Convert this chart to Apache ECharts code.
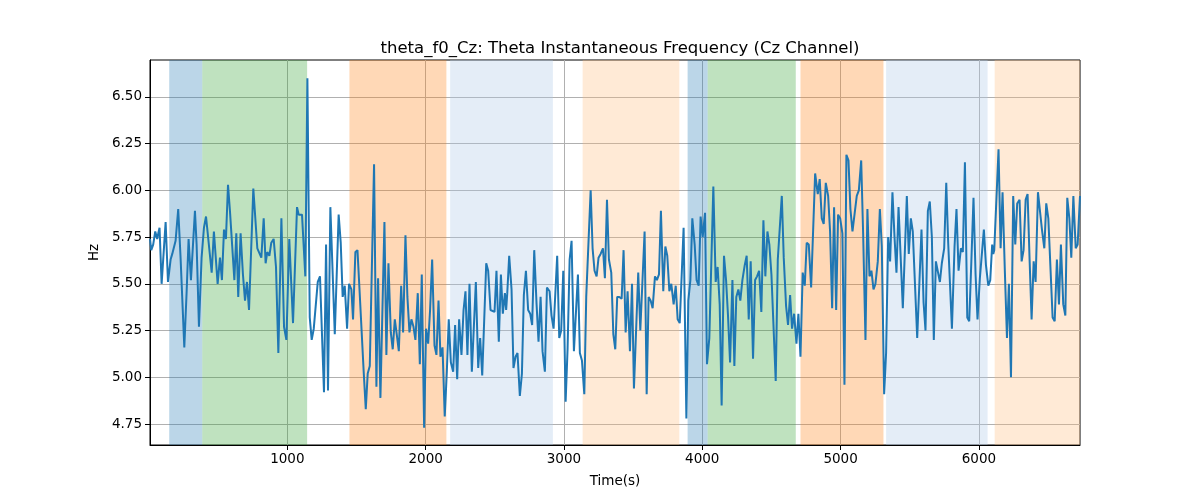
<!DOCTYPE html>
<html>
<head>
<meta charset="utf-8">
<script src="https://cdn.jsdelivr.net/npm/echarts@6/dist/echarts.min.js"></script>
<style>html,body{margin:0;padding:0;background:#fff}#c{width:1200px;height:500px}</style>
</head>
<body>
<div id="c"></div>
<script>
const title = "theta_f0_Cz: Theta Instantaneous Frequency (Cz Channel)";
const xName = "Time(s)";
const yName = "Hz";
const xTicks = [1000, 2000, 3000, 4000, 5000, 6000];
const yTicks = [4.75, 5.00, 5.25, 5.50, 5.75, 6.00, 6.25, 6.50];
const xMin = 7, xMax = 6731, yMin = 4.638, yMax = 6.697;

const times = [
7,16,30,45,59,67,76,91,120,137,156,168,180,192,211,228,255,272,286,303,332,344,361,380,397,412,424,453,469,496,513,527,542,556,571,585,617,631,645,662,679,694,708,723,754,783,797,812,829,843,855,870,884,901,918,935,
957,976,993,1014,1024,1041,1070,1082,1094,1106,1130,1145,1162,1176,1191,1205,1220,1236,1265,1280,1294,1311,1343,1371,1386,1400,1415,1432,1446,1463,1475,1492,1507,1521,1535,1552,1567,1581,1596,1627,1644,1656,1673,1702,1716,1731,1748,1762,1777,1791,1806,1823,1837,1854,1868,1883,1897,1912,
1926,1943,1958,1972,1989,2003,2018,2032,2047,2064,2078,2093,2107,2122,2138,2153,2167,2182,2199,2213,2228,2242,2259,2274,2288,2302,2317,2334,2363,2380,2394,2409,2438,2452,2469,2483,2498,2512,2529,2544,2558,2573,2582,2590,2604,2621,2635,2650,2664,2681,2696,2710,2725,2741,2756,2770,2785,2802,2816,2831,2845,2862,2877,
2896,2910,2925,2937,2951,2966,2980,2995,3012,3026,3041,3055,3072,3101,3115,3130,3147,3161,3193,3207,3221,3236,3250,3265,3282,3296,3311,3325,3342,3357,3371,3385,3400,3417,3431,3446,3460,3477,3492,3506,3537,3552,3583,3598,3612,3627,3641,3658,3672,3687,3701,3718,3733,3747,3762,3776,3793,3808,3822,3837,3851,
3865,3885,3899,3914,3928,3945,3959,3974,3988,4003,4020,4034,4051,4080,4097,4111,4126,4140,4157,4172,4186,4201,4218,4232,4246,4261,4275,4290,4307,4321,4336,4350,4367,4382,4396,4411,4427,4442,4456,4471,4485,4500,4514,4531,4546,4575,4589,4606,4620,4635,4649,4664,4681,4695,4710,4726,4741,4755,4770,4787,4816,
4835,4849,4864,4878,4893,4910,4924,4939,4953,4968,4982,4997,5013,5028,5042,5057,5071,5086,5117,5132,5149,5163,5180,5194,5209,5223,5238,5252,5269,5284,5298,5315,5329,5344,5358,5375,5390,5404,5419,5433,5450,5479,5493,5508,5522,5554,5585,5600,5614,5631,5645,5660,5674,5689,5703,5718,5732,5749,5764,5778,
5805,5824,5838,5853,5870,5884,5899,5916,5930,5945,5961,5976,5990,6007,6036,6051,6068,6082,6096,6104,6111,6142,6157,6171,6188,6203,6217,6232,6248,6263,6277,6294,6309,6323,6338,6352,6367,6381,6396,6410,6427,6456,6473,6487,6502,6533,6548,6564,6579,6593,6610,6625,6639,6654,6668,6683,6700,6714,6731
];
const freq = [
5.74,5.68,5.71,5.78,5.74,5.77,5.80,5.50,5.83,5.51,5.63,5.66,5.65,5.73,5.90,5.64,5.16,5.46,5.74,5.52,5.89,5.71,5.27,5.64,5.80,5.86,5.86,5.56,5.78,5.50,5.64,5.52,5.79,5.74,6.03,5.89,5.52,5.77,5.43,5.77,5.55,5.41,5.51,5.36,6.01,5.69,5.68,5.64,5.85,5.61,5.67,5.65,5.72,5.74,5.59,5.13,
5.85,5.27,5.20,5.74,5.75,5.29,5.91,5.87,5.88,5.87,5.54,6.60,5.32,5.20,5.26,5.26,5.51,5.54,4.92,5.71,4.93,5.91,5.23,5.87,5.72,5.43,5.49,5.26,5.50,5.47,5.31,5.67,5.68,5.48,5.49,5.03,4.83,5.02,5.06,6.14,4.95,5.53,4.89,5.83,5.12,5.61,5.24,5.15,5.31,5.23,5.14,5.49,5.24,5.76,5.43,5.24,5.31,5.27,
5.20,5.45,5.07,5.55,4.73,5.26,5.18,5.36,5.63,5.17,5.12,5.41,5.11,5.16,4.79,5.03,5.31,5.08,5.03,5.28,4.99,5.31,5.12,5.36,5.46,5.12,5.50,5.03,5.51,5.05,5.21,5.01,5.61,5.57,5.36,5.36,5.35,5.57,5.19,5.55,5.34,5.45,5.36,5.45,5.65,5.47,5.05,5.11,5.13,4.90,5.02,5.44,5.57,5.36,5.34,5.28,5.68,5.39,5.19,5.43,5.14,5.03,5.48,
5.46,5.33,5.26,5.26,5.65,5.21,5.25,5.57,4.87,5.15,5.63,5.73,5.14,5.55,5.13,5.09,4.91,5.43,6.00,5.69,5.57,5.54,5.64,5.66,5.69,5.53,5.95,5.63,5.56,5.23,5.15,5.43,5.43,5.42,5.68,5.24,5.46,5.14,5.50,4.94,5.56,5.25,5.78,4.91,5.43,5.41,5.37,5.54,5.52,5.55,5.89,5.46,5.70,5.65,5.46,5.50,5.39,5.49,5.31,5.29,5.28,
5.80,4.78,5.41,5.52,5.85,5.71,5.52,5.49,5.86,5.75,5.88,5.07,5.21,6.02,5.51,5.59,5.39,4.85,5.65,5.52,5.33,5.08,5.52,5.06,5.43,5.47,5.41,5.52,5.60,5.65,5.31,5.62,5.10,5.52,5.54,5.57,5.35,5.84,5.54,5.78,5.71,5.55,5.55,4.98,5.63,5.97,5.64,5.38,5.28,5.44,5.26,5.34,5.18,5.34,5.11,5.56,5.49,5.72,5.71,5.48,6.09,
5.98,6.06,5.85,5.82,6.04,5.97,5.78,5.37,5.91,5.36,5.87,5.85,5.77,4.96,6.19,6.16,5.90,5.78,5.97,6.00,6.16,5.77,5.20,5.90,5.54,5.57,5.47,5.50,5.62,5.90,5.70,4.91,5.13,5.75,5.62,5.99,5.75,5.56,5.91,5.91,5.37,5.97,5.66,5.85,5.78,5.21,5.79,5.40,5.25,5.89,5.94,5.75,5.20,5.62,5.61,5.51,5.61,5.69,6.04,5.72,
5.26,5.70,5.90,5.57,5.69,5.67,6.15,5.32,5.30,5.61,5.96,5.55,5.31,5.53,5.79,5.60,5.49,5.52,5.71,5.66,5.68,6.22,5.69,5.99,5.56,5.21,5.50,5.00,5.97,5.71,5.93,5.95,5.62,5.68,5.95,5.98,5.62,5.31,5.62,5.51,5.99,5.79,5.69,5.93,5.85,5.32,5.30,5.63,5.39,5.71,5.39,5.33,5.96,5.85,5.64,5.97,5.69,5.71,5.97
];

const spanStart = [146, 385, 1449, 2177, 3135, 3894, 4039, 4710, 5329, 6114];
const spanEnd   = [385, 1143, 2150, 2920, 3834, 4039, 4676, 5310, 6063, 6731];
const spanColor = [
  'rgba(31,119,180,0.3)', 'rgba(44,160,44,0.3)', 'rgba(255,127,14,0.3)',
  'rgba(174,199,232,0.33)', 'rgba(255,187,120,0.3)',
  'rgba(31,119,180,0.3)', 'rgba(44,160,44,0.3)', 'rgba(255,127,14,0.3)',
  'rgba(174,199,232,0.33)', 'rgba(255,187,120,0.3)'
];

const lineData = times.map((t, i) => [t, freq[i]]);
const areas = spanStart.map((s, i) => [
  { xAxis: s, itemStyle: { color: spanColor[i] } },
  { xAxis: spanEnd[i] }
]);

const font = 'DejaVu Sans';
const chart = echarts.init(document.getElementById('c'), null, { renderer: 'canvas' });
chart.setOption({
  animation: false,
  backgroundColor: '#fff',
  title: {
    text: title, left: 615, top: 35, textAlign: 'center',
    textStyle: { fontFamily: font, fontSize: 16.5, fontWeight: 'normal', color: '#000' }
  },
  grid: { left: 150, right: 120, top: 60, bottom: 55, show: true, borderColor: '#000', borderWidth: 1, backgroundColor: 'transparent' },
  xAxis: {
    type: 'value', min: xMin, max: xMax,
    name: xName, nameLocation: 'middle', nameGap: 29,
    nameTextStyle: { fontFamily: font, fontSize: 13.5, color: '#000' },
    axisLine: { show: true, lineStyle: { color: '#000', width: 1 } },
    axisTick: { show: true, length: 5, lineStyle: { color: '#000' }, customValues: xTicks },
    axisLabel: { customValues: xTicks, fontFamily: font, fontSize: 13.5, color: '#000', margin: 7,
      formatter: v => String(Math.round(v)) },
    splitLine: { show: true, lineStyle: { color: '#b0b0b0', width: 1 } }
  },
  yAxis: {
    type: 'value', min: yMin, max: yMax,
    name: yName, nameLocation: 'middle', nameGap: 48, nameRotate: 90,
    nameTextStyle: { fontFamily: font, fontSize: 13.5, color: '#000' },
    axisLine: { show: true, lineStyle: { color: '#000', width: 1 } },
    axisTick: { show: true, length: 5, lineStyle: { color: '#000' }, customValues: yTicks },
    axisLabel: { customValues: yTicks, fontFamily: font, fontSize: 13.5, color: '#000', margin: 8,
      formatter: v => v.toFixed(2) },
    splitLine: { show: true, lineStyle: { color: '#b0b0b0', width: 1 } }
  },
  series: [
    {
      type: 'line', data: [], z: 1, silent: true,
      markArea: { silent: true, data: areas }
    },
    {
      type: 'line', data: lineData, z: 3, showSymbol: false, symbol: 'none',
      lineStyle: { color: '#1f77b4', width: 2 }, itemStyle: { color: '#1f77b4' }
    }
  ]
});
</script>
</body>
</html>
